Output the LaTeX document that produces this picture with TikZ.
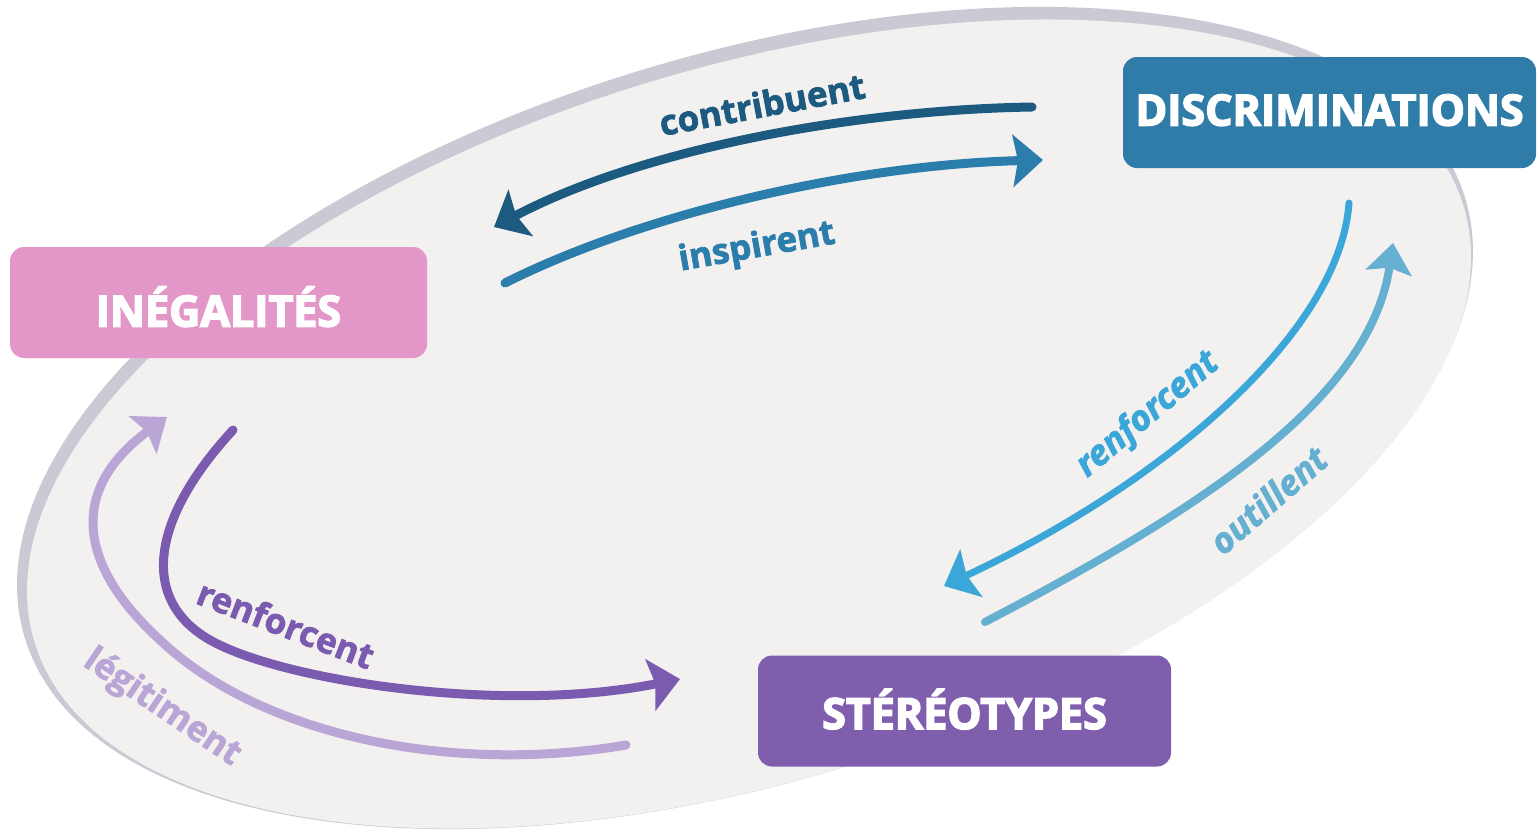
\documentclass[tikz,border=0pt]{standalone}
\usepackage{fontspec}
\setmainfont{Open Sans}
\newfontfamily\boxfont[FakeBold=3.5]{Open Sans}
\newfontfamily\lblfont[FakeBold=2]{Open Sans}
\usetikzlibrary{arrows.meta}
\definecolor{ellborder}{HTML}{CBCAD4}
\definecolor{ellfill}{HTML}{F3F0F0}
\definecolor{pinkc}{HTML}{E396C8}
\definecolor{discc}{HTML}{2E7CA7}
\definecolor{stereoc}{HTML}{7F5EAE}
\definecolor{contribc}{HTML}{1D5A80}
\definecolor{inspc}{HTML}{2B7EAB}
\definecolor{renfRc}{HTML}{3BA7D8}
\definecolor{outilc}{HTML}{65AFD1}
\definecolor{renfLc}{HTML}{7B5BAF}
\definecolor{legitc}{HTML}{B9A6D7}
\tikzset{
  box/.style={rounded corners=14pt, minimum width=413pt, minimum height=111pt,
    text=white, inner sep=0pt, text height=30pt, text depth=0pt,
    font=\boxfont\fontsize{43}{50}\selectfont\bfseries},
  arr/.style={line cap=round, line width=9pt,
    -{Stealth[length=30pt,width=52pt,inset=5pt]}},
  lbl/.style={font=\lblfont\fontsize{35}{42}\selectfont\bfseries, inner sep=0pt},
  lbli/.style={font=\lblfont\fontsize{35}{42}\selectfont\bfseries\itshape, inner sep=0pt},
}
\begin{document}
\begin{tikzpicture}[x=1pt,y=-1pt]
\useasboundingbox (0,0) rectangle (1537,830);
% background ellipse
\fill[ellborder, rotate around={17:(745,418)}] (745,418) ellipse [x radius=753, y radius=363];
\fill[ellfill, rotate around={17:(749,424)}] (749,424) ellipse [x radius=747, y radius=356];
% boxes
\node[box, fill=pinkc, minimum width=417pt] (ineg) at (218.5,302.5) {\raisebox{-9pt}{INÉGALITÉS}};
\node[box, fill=discc] (disc) at (1329.5,112.5) {\raisebox{2pt}{DISCRIMINATIONS}};
\node[box, fill=stereoc] (stereo) at (964.5,711) {\raisebox{-3pt}{STÉRÉOTYPES}};
% arrow end points
\coordinate (c1s) at (1032,107);
\coordinate (c1e) at (494,227);
\coordinate (i1s) at (505,283);
\coordinate (i1e) at (1043,160);
\coordinate (r1s) at (1349,203);
\coordinate (r1e) at (944,586);
\coordinate (o1s) at (985,622);
\coordinate (o1e) at (1393,243);
\coordinate (r2s) at (233,430);
\coordinate (r2m) at (210,640);
\coordinate (r2e) at (680,679);
\coordinate (l1s) at (626,745);
\coordinate (l1m) at (160,640);
\coordinate (l1e) at (167,417);
% top pair
\draw[arr, draw=contribc] (c1s) .. controls (850,110) and (640,150) .. (c1e);
\draw[arr, draw=inspc] (i1s) .. controls (640,215) and (850,165) .. (i1e);
% right pair
\draw[arr, line width=7pt, draw=renfRc] (r1s) .. controls (1340,330) and (1170,480) .. (r1e);
\draw[arr, line width=8pt, draw=outilc, -{Stealth[length=30pt,width=46pt,inset=5pt]}] (o1s) .. controls (1200,510) and (1370,400) .. (o1e);
% left pair
\draw[arr, draw=renfLc] (r2s) .. controls (150,520) and (140,600) .. (r2m) .. controls (280,680) and (500,715) .. (r2e);
\draw[arr, draw=legitc, -{Stealth[length=30pt,width=46pt,inset=5pt]}] (l1s) .. controls (450,775) and (260,735) .. (l1m) .. controls (78,565) and (68,490) .. (l1e);
% labels
\node[lbl, text=contribc, rotate=10.6] (tcontrib) at (762,104) {contribuent};
\node[lbl, text=inspc, rotate=10] (tinsp) at (757,248) {inspirent};
\node[lbli, text=renfRc, rotate=40] (trenfR) at (1148,415) {renforcent};
\node[lbli, text=outilc, rotate=41] (toutil) at (1268,500) {outillent};
\node[lbl, text=renfLc, rotate=-21] (trenfL) at (286,624) {renforcent};
\node[lbl, text=legitc, rotate=-34] (tlegit) at (162,708) {légitiment};
\end{tikzpicture}
\end{document}
